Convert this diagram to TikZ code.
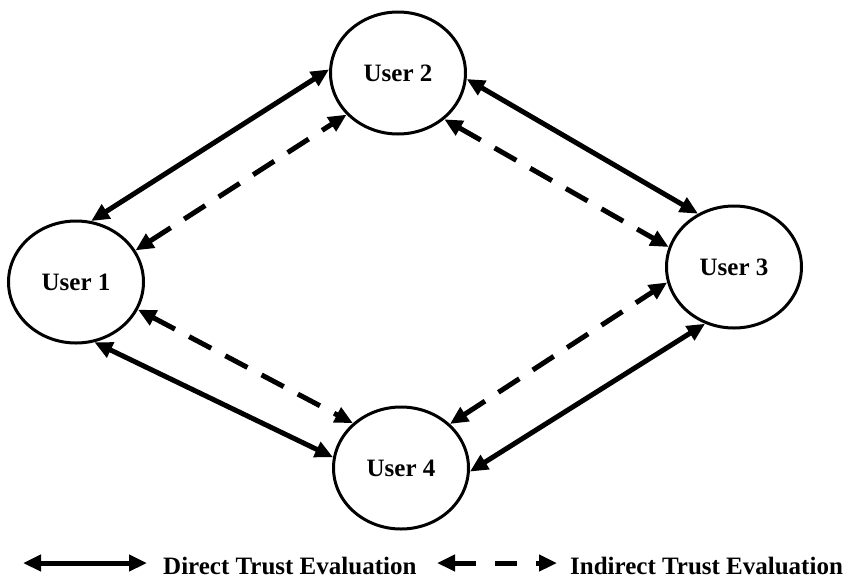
\documentclass[tikz,border=0pt]{standalone}
\usepackage{fontspec}
\setmainfont{Liberation Serif}
\usetikzlibrary{arrows.meta,shapes.geometric}
\begin{document}
\begin{tikzpicture}[x=1pt,y=-1pt,
  user/.style={draw,ellipse,line width=3pt,minimum width=135pt,minimum height=122pt,inner sep=0pt,
    font=\fontsize{25}{28}\selectfont\bfseries},
  direct/.style={line width=5pt,{Triangle[length=18pt,width=16pt]}-{Triangle[length=18pt,width=16pt]}},
  indirect/.style={direct,dash pattern=on 25pt off 16pt},
  lbl/.style={font=\fontsize{25}{28}\selectfont\bfseries,anchor=base west,inner sep=0pt}]
\useasboundingbox (0,0) rectangle (844,579);
\node[user] (u1) at (76,282) {User 1};
\node[user] (u2) at (398,73) {User 2};
\node[user] (u3) at (734,267) {User 3};
\node[user] (u4) at (401,468) {User 4};
% direct
\draw[direct] (u1.76) -- (u2.177);
\draw[direct] (u2.355) -- (u3.124);
\draw[direct] (u1.287) -- (u4.171);
\draw[direct] (u4.357) -- (u3.243);
% indirect
\draw[indirect] (u1.28) -- (u2.219);
\draw[indirect] (u2.315) -- (u3.163);
\draw[indirect] (u1.336) -- (u4.137);
\draw[indirect] (u4.42) -- (u3.193);
% legend
\coordinate (la) at (23,563);
\coordinate (lb) at (147,563);
\coordinate (lc) at (437,563);
\coordinate (ld) at (557,563);
\draw[direct] (la) -- (lb);
\node[lbl] (t1) at (163,574) {Direct Trust Evaluation};
\draw[direct,dash pattern=on 22pt off 19pt] (lc) -- (ld);
\node[lbl] (t2) at (570,574) {Indirect Trust Evaluation};
\end{tikzpicture}
\end{document}
